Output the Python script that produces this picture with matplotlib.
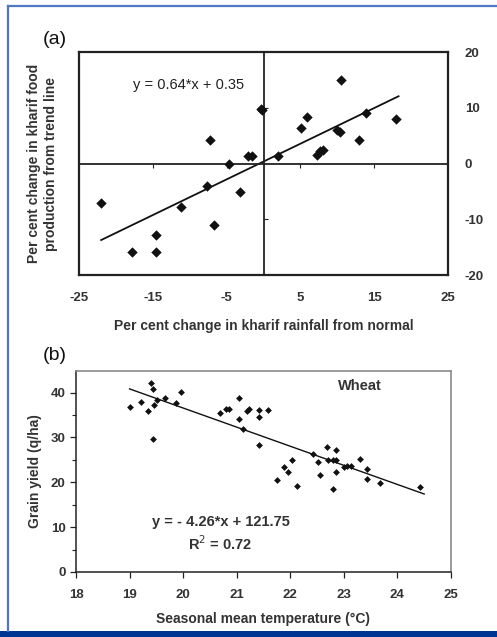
import numpy as np
import matplotlib
matplotlib.use("Agg")
import matplotlib.pyplot as plt
from matplotlib.lines import Line2D
from matplotlib.patches import Rectangle
from matplotlib.ticker import MultipleLocator

plt.rcParams['font.family'] = ['Liberation Sans', 'DejaVu Sans']
plt.rcParams['axes.unicode_minus'] = False

# (a) kharif rainfall anomaly vs. kharif food production anomaly
rain_change = [-22.0, -17.8, -14.6, -14.6, -11.2, -7.7, -6.7, -7.3, -4.7, -3.2,
               -2.1, -1.5, -0.4, -0.2, 1.9, 5.1, 5.9, 10.5, 9.9, 10.4,
               7.2, 7.7, 8.0, 13.0, 13.9, 18.0]
food_change = [-7.0, -15.8, -15.8, -12.9, -7.8, -4.1, -11.1, 4.3, 0.0, -5.1,
               1.3, 1.3, 9.8, 9.6, 1.3, 6.3, 8.3, 14.9, 6.0, 5.6,
               1.6, 2.2, 2.5, 4.3, 9.1, 8.0]
fit_a = (0.64, 0.35)
fit_a_range = (-22.0, 18.3)
ticks_a_x = [-25, -15, -5, 5, 15, 25]
ticks_a_y = [-20, -10, 0, 10, 20]

# (b) wheat grain yield vs. seasonal mean temperature
temperature = [19.40, 19.43, 19.00, 19.21, 19.35, 19.46, 19.52, 19.66, 19.87, 19.96,
               19.44, 20.69, 20.80, 20.85, 21.04, 21.04, 21.11, 21.19, 21.23, 21.41,
               21.41, 21.59, 21.41, 21.75, 21.89, 21.95, 22.03, 22.13, 22.43, 22.51,
               22.55, 22.68, 22.71, 22.79, 22.86, 22.85, 22.86, 22.79, 23.00, 23.06,
               23.13, 23.31, 23.44, 23.44, 23.68, 24.43]
grain_yield = [42.2, 40.7, 36.7, 37.9, 35.9, 37.2, 38.4, 38.7, 37.7, 40.1,
               29.6, 35.5, 36.4, 36.4, 38.7, 34.0, 31.8, 35.9, 36.4, 36.1,
               34.6, 36.1, 28.4, 20.4, 23.3, 22.4, 25.0, 19.2, 26.4, 24.6,
               21.6, 27.8, 25.0, 25.0, 27.3, 25.0, 22.4, 18.4, 23.3, 23.6,
               23.6, 25.1, 22.9, 20.7, 19.8, 19.0]
fit_b = (-4.26, 121.75)
fit_b_range = (19.0, 24.5)
r_squared = 0.72
ticks_b_x = [18, 19, 20, 21, 22, 23, 24, 25]
ticks_b_y = [0, 10, 20, 30, 40]

ink = '#222222'
soft = '#333333'
fs_tick = 9.5
fs_label = 10
W, H = 497, 637
fig = plt.figure(figsize=(W / 100, H / 100), dpi=100)


def fbox(left, top, right, bottom):
    return [left / W, 1 - bottom / H, (right - left) / W, (bottom - top) / H]


def embolden(labels):
    for lbl in labels:
        lbl.set_fontweight('bold')
        lbl.set_color(soft)


# ---------------- panel (a) ----------------
pos_a = fbox(79, 52, 448, 275)
ax_a = fig.add_axes(pos_a)
ax_a.set_xlim(-25, 25)
ax_a.set_ylim(-20, 20)
for side in ('top', 'right'):
    ax_a.spines[side].set_visible(False)
ax_a.spines['left'].set_position(('data', 0))
ax_a.spines['bottom'].set_position(('data', 0))
for side in ('left', 'bottom'):
    ax_a.spines[side].set_linewidth(1.3)
    ax_a.spines[side].set_color(ink)
ax_a.set_xticks([t for t in ticks_a_x if t not in (-25, 25)])
ax_a.set_yticks([t for t in ticks_a_y if t != 0 and abs(t) != 20])
ax_a.tick_params(axis='x', direction='out', length=3, width=0.8, colors=ink,
                 labelbottom=False)
ax_a.tick_params(axis='y', direction='in', length=3, width=0.8, colors=ink,
                 labelleft=False)

ax_a.scatter(rain_change, food_change, marker='D', s=28, color='#111111',
             zorder=3, linewidths=0)
xa = np.array(fit_a_range)
ax_a.plot(xa, fit_a[0] * xa + fit_a[1], color='#111111', lw=1.3, zorder=2)
ax_a.text(-17.7, 14.1, f"y = {fit_a[0]:.2f}*x + {fit_a[1]:.2f}", fontsize=10.5,
          color=ink, va='center', ha='left')

# frame with the labelled scales on the bottom and right
frame_a = fig.add_axes(pos_a, facecolor='none')
frame_a.set_xlim(-25, 25)
frame_a.set_ylim(-20, 20)
frame_a.set_xticks(ticks_a_x)
frame_a.set_yticks(ticks_a_y)
frame_a.yaxis.tick_right()
frame_a.tick_params(length=0, labelsize=fs_tick, colors=ink)
frame_a.tick_params(axis='x', pad=12)
frame_a.tick_params(axis='y', pad=12)
embolden(frame_a.get_xticklabels() + frame_a.get_yticklabels())
for sp in frame_a.spines.values():
    sp.set_linewidth(1.6)
    sp.set_color(ink)
frame_a.set_xlabel('Per cent change in kharif rainfall from normal',
                   fontsize=fs_label, fontweight='bold', color=soft, labelpad=11)
frame_a.set_ylabel('Per cent change in kharif food\nproduction from trend line',
                   fontsize=fs_label, fontweight='bold', color=soft, labelpad=15,
                   linespacing=1.3)
frame_a.yaxis.set_label_position('left')
fig.text(43 / W, 1 - 39 / H, '(a)', fontsize=14, color='#111111',
         ha='left', va='center')

# ---------------- panel (b) ----------------
pos_b = fbox(76, 371, 451, 572)
ax_b = fig.add_axes(pos_b)
ax_b.set_xlim(18, 25)
ax_b.set_ylim(0, 44.8)
ax_b.set_xticks(ticks_b_x)
ax_b.set_yticks(ticks_b_y)
ax_b.yaxis.set_minor_locator(MultipleLocator(5))
ax_b.tick_params(axis='both', which='both', direction='out', colors=ink,
                 labelsize=fs_tick)
ax_b.tick_params(which='major', length=4, width=0.9)
ax_b.tick_params(which='minor', length=3, width=0.8)
ax_b.tick_params(axis='x', pad=8)
embolden(ax_b.get_xticklabels() + ax_b.get_yticklabels())
for side in ('left', 'bottom'):
    ax_b.spines[side].set_color(ink)
    ax_b.spines[side].set_linewidth(1.1)
for side in ('top', 'right'):
    ax_b.spines[side].set_color('#8a8a8a')
    ax_b.spines[side].set_linewidth(1.2)

ax_b.scatter(temperature, grain_yield, marker='D', s=12, color='#111111',
             zorder=3, linewidths=0)
xb = np.array(fit_b_range)
ax_b.plot(xb, fit_b[0] * xb + fit_b[1], color='#111111', lw=1.0, zorder=2)
ax_b.text(23.3, 41.5, 'Wheat', fontsize=10.5, fontweight='bold', color=soft,
          ha='center', va='center')
ax_b.text(20.7, 11.1, f"y = - {abs(fit_b[0]):.2f}*x + {fit_b[1]:.2f}",
          fontsize=10.5, fontweight='bold', color=soft, ha='center', va='center')
ax_b.text(20.68, 6.4, f"R$^2$ = {r_squared:.2f}", fontsize=10.5, fontweight='bold',
          color=soft, ha='center', va='center')
ax_b.set_xlabel('Seasonal mean temperature (°C)', fontsize=fs_label,
                fontweight='bold', color=soft, labelpad=8)
ax_b.set_ylabel('Grain yield (q/ha)', fontsize=fs_label, fontweight='bold',
                color=soft, labelpad=6)
fig.text(43 / W, 1 - 356 / H, '(b)', fontsize=14, color='#111111',
         ha='left', va='center')

# ---------------- page border ----------------
border = '#4f77c6'
fig.add_artist(Line2D([8 / W, 8 / W], [1 - 6 / H, 1 - 631 / H],
                      transform=fig.transFigure, color=border, lw=1.6))
fig.add_artist(Line2D([8 / W, 1.0], [1 - 6 / H, 1 - 6 / H],
                      transform=fig.transFigure, color=border, lw=1.6))
fig.add_artist(Rectangle((0, 0), 1, 6.5 / H, transform=fig.transFigure,
                         color='#003594', lw=0))

fig.savefig('out.png', dpi=100)
